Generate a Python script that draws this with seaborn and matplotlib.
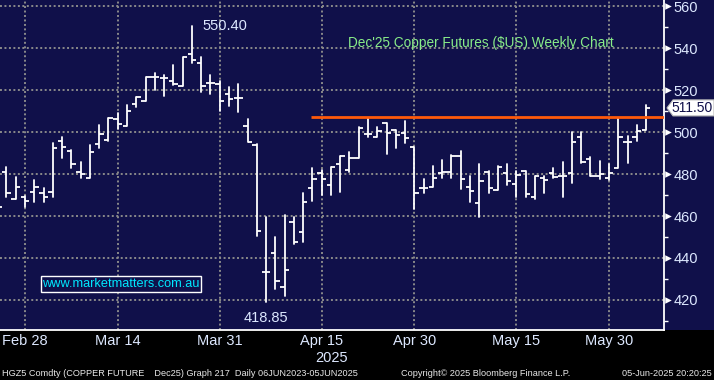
import matplotlib
matplotlib.use("Agg")
import matplotlib.pyplot as plt
import matplotlib.transforms as mtransforms
from matplotlib.patches import Rectangle, Polygon
import numpy as np
import pandas as pd
import seaborn as sns

# ---------------- data ----------------
dates = ["Feb 25", "Feb 26", "Feb 27", "Feb 28", "Mar 3", "Mar 4", "Mar 5", "Mar 6", "Mar 7",
         "Mar 10", "Mar 11", "Mar 12", "Mar 13", "Mar 14", "Mar 17", "Mar 18", "Mar 19", "Mar 20",
         "Mar 21", "Mar 24", "Mar 25", "Mar 26", "Mar 27", "Mar 28", "Mar 31", "Apr 1", "Apr 2",
         "Apr 3", "Apr 4", "Apr 7", "Apr 8", "Apr 9", "Apr 10", "Apr 11", "Apr 14", "Apr 15",
         "Apr 16", "Apr 17", "Apr 21", "Apr 22", "Apr 23", "Apr 24", "Apr 25", "Apr 28", "Apr 29",
         "Apr 30", "May 1", "May 2", "May 5", "May 6", "May 7", "May 8", "May 9", "May 12",
         "May 13", "May 14", "May 15", "May 16", "May 19", "May 20", "May 21", "May 22", "May 23",
         "May 27", "May 28", "May 29", "May 30", "Jun 2", "Jun 3", "Jun 4", "Jun 5"]
opens = [467.0, 481.1, 467.9, 469.2, 471.3, 470.8, 471.3, 495.7, 491.0, 480.8, 478.0, 494.3, 496.2,
         506.0, 502.9, 513.2, 514.9, 526.0, 525.9, 524.4, 522.1, 537.1, 532.7, 523.2, 522.9, 517.9,
         516.0, 502.9, 493.8, 433.2, 442.2, 426.0, 457.0, 452.5, 473.2, 480.3, 474.8, 484.6, 481.7,
         487.5, 499.0, 497.8, 504.1, 501.0, 499.4, 493.0, 473.2, 473.7, 480.3, 481.1, 488.7, 473.7,
         466.0, 481.1, 472.4, 480.3, 475.1, 481.4, 469.0, 477.9, 480.3, 479.0, 480.3, 497.8, 487.0,
         479.2, 477.9, 482.7, 495.1, 497.8, 501.0]
highs = [469.0, 483.5, 478.4, 469.5, 477.1, 473.2, 494.9, 497.8, 491.4, 485.9, 493.8, 503.3, 506.5,
         508.9, 512.9, 516.5, 526.3, 527.9, 527.1, 531.9, 535.9, 550.4, 535.9, 527.1, 524.4, 521.6,
         522.9, 506.2, 494.1, 459.7, 450.0, 460.5, 459.7, 470.8, 482.7, 481.9, 483.5, 488.6, 490.6,
         502.5, 506.5, 502.5, 504.1, 501.0, 505.2, 493.0, 477.5, 484.0, 486.7, 489.0, 491.0, 479.0,
         484.6, 481.4, 484.0, 484.6, 481.4, 481.4, 479.0, 479.0, 482.7, 485.9, 500.2, 499.8, 488.3,
         486.2, 484.6, 506.5, 498.3, 503.3, 512.9]
lows = [462.0, 469.2, 467.9, 464.4, 466.8, 466.8, 469.2, 487.5, 483.0, 478.0, 478.0, 492.5, 495.7,
        501.4, 502.9, 512.1, 514.9, 520.0, 517.1, 522.4, 522.1, 532.7, 519.2, 518.1, 510.0, 512.5,
        509.7, 495.1, 450.6, 418.85, 425.4, 422.0, 446.5, 447.8, 467.3, 470.0, 470.0, 471.6, 481.0,
        487.5, 497.8, 497.8, 489.4, 492.5, 494.6, 463.3, 470.8, 473.7, 478.3, 478.3, 472.9, 466.5,
        459.7, 470.8, 472.4, 474.8, 469.2, 469.2, 468.2, 471.1, 477.9, 469.2, 475.6, 485.1, 479.2,
        477.6, 477.1, 482.7, 485.1, 495.7, 501.0]
closes = [464.4, 470.8, 473.7, 467.1, 473.7, 468.9, 492.2, 493.0, 484.6, 480.0, 490.6, 498.9, 506.5,
          503.7, 510.2, 516.5, 526.3, 526.0, 525.9, 522.9, 535.6, 534.3, 521.9, 523.2, 514.8, 515.6,
          516.0, 495.4, 453.0, 433.2, 428.9, 434.3, 447.8, 466.5, 477.5, 477.5, 483.2, 488.6, 487.5,
          501.7, 499.0, 500.6, 499.4, 498.6, 497.0, 470.8, 473.2, 477.9, 481.1, 488.7, 477.5, 472.1,
          476.7, 473.2, 483.5, 476.7, 479.5, 470.3, 479.0, 477.1, 478.7, 479.0, 495.4, 485.9, 479.2,
          479.8, 480.3, 497.5, 495.1, 500.5, 511.5]

xtick_dates = ["Feb 28", "Mar 14", "Mar 31", "Apr 15", "Apr 30", "May 15", "May 30"]
ytick_values = [420, 440, 460, 480, 500, 520, 540, 560]
resistance = 507.3
last_price = 511.50
high_label = "550.40"
low_label = "418.85"
title_text = "Dec'25 Copper Futures ($US) Weekly Chart"
url_text = "www.marketmatters.com.au"
footer_left = "HGZ5 Comdty (COPPER FUTURE    Dec25) Graph 217  Daily 06JUN2023-05JUN2025"
footer_mid = "Copyright\u00a9 2025 Bloomberg Finance L.P."
footer_right = "05-Jun-2025 20:20:25"

# ---------------- style ----------------
sns.set_style("dark")
plt.rcParams["font.family"] = ["Liberation Sans", "DejaVu Sans"]

NAVY = "#10104a"
TXT = "#dde8ff"

df = pd.DataFrame({"date": dates, "open": opens, "high": highs, "low": lows, "close": closes})
df["x"] = np.arange(len(df))
pos = {d: i for i, d in enumerate(dates)}

long = pd.concat([
    df[["x", "low"]].rename(columns={"low": "price"}).assign(bar=df["x"]),
    df[["x", "high"]].rename(columns={"high": "price"}).assign(bar=df["x"]),
])

W, H = 714, 380
fig = plt.figure(figsize=(W / 100, H / 100), dpi=100)
fig.patch.set_facecolor("black")
fig.patches.append(Rectangle((664 / W, 50 / H), 1 - 664 / W, 1 - 50 / H,
                             transform=fig.transFigure, facecolor=NAVY, edgecolor="none", zorder=-5))
ax = fig.add_axes([0, 50 / H, 664 / W, 330 / H])
ax.set_facecolor(NAVY)

# grid
for v in ytick_values:
    ax.axhline(v, color="#8a8a8a", lw=1.4, ls=(0, (1, 1.3)), zorder=1)
for d in xtick_dates:
    ax.axvline(pos[d], color="#8a8a8a", lw=1.4, ls=(0, (1, 1.3)), zorder=1)

# OHLC bars
sns.lineplot(data=long, x="x", y="price", units="bar", estimator=None, sort=False,
             color="white", lw=1.3, ax=ax, legend=False, zorder=3)
tw = 0.47
ax.hlines(df["open"], df["x"] - tw, df["x"], color="white", lw=1.3, zorder=3)
ax.hlines(df["close"], df["x"], df["x"] + tw, color="white", lw=1.3, zorder=3)

# resistance line
ax.hlines(resistance, pos["Apr 14"] - 0.1, 71.93, color="#ff5a0a", lw=2.0, zorder=4)

ax.set_xlim(0.30, 71.93)
ax.set_ylim(405.7, 562.9)

# axes / spines
for s in ["left", "top"]:
    ax.spines[s].set_visible(False)
for s in ["bottom", "right"]:
    ax.spines[s].set_color("white")
    ax.spines[s].set_linewidth(1.3)

ax.set_xticks([pos[d] for d in xtick_dates])
ax.set_xticklabels(xtick_dates, color=TXT, fontsize=10.5)
ax.tick_params(axis="x", which="major", length=0, pad=3)
ax.set_xticks([8, 19, 30, 39, 51, 62], minor=True)
ax.tick_params(axis="x", which="minor", length=4, width=1, color="white", direction="out")

ax.yaxis.tick_right()
ax.set_yticks(ytick_values)
ax.set_yticklabels([str(v) for v in ytick_values], color=TXT, fontsize=10.5)
ax.tick_params(axis="y", which="major", length=0, pad=7)
ax.set_yticks(np.arange(410, 560, 20), minor=True)
ax.tick_params(axis="y", which="minor", length=3, width=1, color="white", direction="out")
ax.set_xlabel("")
ax.set_ylabel("")

# triangle markers on right axis
trans = mtransforms.blended_transform_factory(ax.transAxes, ax.transData)
ax.scatter([1.006] * len(ytick_values), ytick_values, marker=">", s=22, color="white",
           transform=trans, clip_on=False, zorder=5, linewidths=0)

# last price tag
yl = ax.transData.transform((0, last_price))[1]
yfig = yl / fig.dpi / (H / 100)
tag = Polygon([(667 / W, yfig), (673 / W, yfig + 8 / H), (714 / W, yfig + 8 / H),
               (714 / W, yfig - 8 / H), (673 / W, yfig - 8 / H)],
              closed=True, transform=fig.transFigure, facecolor="white", edgecolor="#bbbbbb",
              lw=0.8, zorder=10)
fig.patches.append(tag)
fig.text(692 / W, yfig, f"{last_price:.2f}", color="#10104a", fontsize=10,
         ha="center", va="center", zorder=11)

# annotations
ax.text(pos["Mar 26"] + 1.1, 550.4, high_label, color=TXT, fontsize=10.5, va="center", ha="left")
ax.text(pos["Apr 7"], 411.2, low_label, color=TXT, fontsize=10.5, va="center", ha="center")
ax.text(481 / 664, 1 - 43 / 330, title_text, transform=ax.transAxes, color="#88ec88",
        fontsize=9.8, ha="center", va="center")
ax.text(121 / 664, 1 - 284 / 330, url_text, transform=ax.transAxes, color="#00e8ff",
        fontsize=9.2, ha="center", va="center",
        bbox=dict(boxstyle="square,pad=0.12", facecolor=NAVY, edgecolor="white", lw=1.0))

# year label and footer
fig.text(332 / W, 1 - 358 / H, "2025", color=TXT, fontsize=10.5, ha="center", va="center")
fig.text(2 / W, 1 - 373 / H, footer_left, color="#e8e8e8", fontsize=6.6,
         ha="left", va="center")
fig.text(401 / W, 1 - 373 / H, footer_mid, color="#e8e8e8", fontsize=6.6,
         ha="left", va="center")
fig.text(712 / W, 1 - 373 / H, footer_right, color="#e8e8e8", fontsize=6.6,
         ha="right", va="center")

fig.savefig("out.png", dpi=100, facecolor=fig.get_facecolor())
